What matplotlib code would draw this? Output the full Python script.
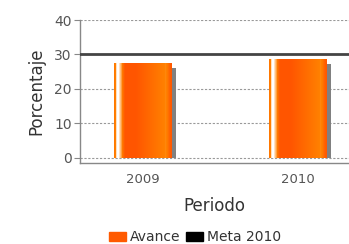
import numpy as np
import matplotlib.pyplot as plt
from matplotlib.patches import Patch
from matplotlib.colors import LinearSegmentedColormap

periods = ["2009", "2010"]
avance = [27.5, 28.7]
meta = 30
y_ticks = [0, 10, 20, 30, 40]

fig = plt.figure(figsize=(3.49, 2.44), dpi=100)
ax = fig.add_axes([80 / 349, (244 - 163) / 244, 1 - 80 / 349, 143 / 244])

x = np.arange(len(periods))
w = 0.37

# dotted grid
for t in y_ticks:
    if t != meta:
        ax.axhline(t, color="#999999", lw=0.8, ls=(0, (2, 1.5)), zorder=1)

# shadow behind the bars
ax.bar(x + 0.03, [v - 1.4 for v in avance], w, color="#808080", zorder=2)

# bars with a glossy horizontal gradient
cmap = LinearSegmentedColormap.from_list(
    "o", [(0.0, "#FF5500"), (0.6, "#FF8000"), (1.0, "#FFFFFF")])
prof = np.concatenate([[0.5, 0.6, 0.9, 1.0, 1.0, 0.9, 0.8, 0.7, 0.5, 0.3, 0.1],
                       np.zeros(10), np.linspace(0.0, 0.6, 30),
                       [0.62, 0.6, 0.5, 0.35, 0.2, 0.1, 0.05]])
img = np.tile(prof, (4, 1))
for xi, v in zip(x, avance):
    b = ax.bar(xi, v, w, color="#FF6600", zorder=3)
    im = ax.imshow(img, cmap=cmap, aspect="auto", zorder=3.5,
                   interpolation="none", vmin=0, vmax=1,
                   extent=(xi - w / 2, xi + w / 2, 0, v))
    im.set_clip_path(b[0])

ax.axhline(meta, color="#444444", lw=2, zorder=4)

ax.set_xlim(-0.406, 1.33)
ax.set_ylim(-1.5, 40)
ax.set_yticks(y_ticks)
ax.set_xticks(x)
ax.set_xticklabels(periods)
ax.tick_params(axis="y", length=4, width=0.8, color="#888888", labelsize=10,
               labelcolor="#555555", pad=2)
ax.tick_params(axis="x", length=0, labelsize=9.5, labelcolor="#555555", pad=7)
for s in ["top", "right"]:
    ax.spines[s].set_visible(False)
for s in ["left", "bottom"]:
    ax.spines[s].set_color("#888888")
    ax.spines[s].set_linewidth(1)

ax.set_xlabel("Periodo", fontsize=12, color="#333333", labelpad=8)
ax.set_ylabel("Porcentaje", fontsize=12, color="#333333", labelpad=6)

handles = [Patch(color="#FF5A00", label="Avance"), Patch(color="#000000", label="Meta 2010")]
fig.legend(handles=handles, loc="center", bbox_to_anchor=(195 / 349, 1 - 237 / 244),
           ncol=2, frameon=False, fontsize=10, handlelength=1.2, handleheight=0.6,
           handletextpad=0.3, columnspacing=0.4, labelcolor="#333333")

fig.savefig("out.png", dpi=100)
